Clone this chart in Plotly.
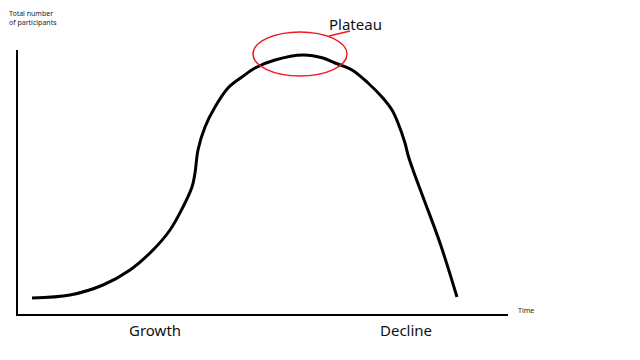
import plotly.graph_objects as go

# Hand-drawn life-cycle curve (time vs total number of participants)
time = [15, 53, 86, 113, 136, 153, 166, 175, 178, 181, 188, 198, 211, 225, 238, 258,
        286, 306, 318, 335, 351, 365, 375, 381, 388, 391, 396, 406, 423, 440]
participants = [17, 20, 30, 45, 65, 85, 108, 128, 142, 165, 188, 208, 227, 238, 247, 255,
                260, 257, 252, 245, 232, 218, 205, 192, 172, 160, 145, 118, 72, 18]

y_axis_label = "Total number<br>of participants"
x_axis_label = "Time"
phase_labels = ["Growth", "Decline"]
phase_x = [138, 389]
plateau_label = "Plateau"

fig = go.Figure()
fig.add_trace(go.Scatter(x=time, y=participants, mode="lines",
                         line=dict(color="black", width=3, shape="spline", smoothing=1.0),
                         hoverinfo="skip", showlegend=False))

# axes drawn as lines
fig.add_shape(type="line", x0=0, x1=0, y0=-1, y1=265, line=dict(color="black", width=2))
fig.add_shape(type="line", x0=0, x1=491, y0=0, y1=0, line=dict(color="black", width=2))

# plateau ellipse and leader
fig.add_shape(type="circle", x0=236, x1=330, y0=239, y1=283,
              line=dict(color="#ed1c24", width=1.5))
fig.add_shape(type="line", x0=312, x1=333, y0=279, y1=284,
              line=dict(color="#ed1c24", width=1.5))

fig.add_annotation(x=-10, y=297, text=y_axis_label, showarrow=False, xanchor="left",
                   yanchor="middle", align="left",
                   font=dict(family="Noto Sans", size=7, color="#222"))
fig.add_annotation(x=499, y=5, text=x_axis_label, showarrow=False, xanchor="left",
                   yanchor="middle", font=dict(family="Noto Sans", size=7, color="#222"))
for lab, xp in zip(phase_labels, phase_x):
    fig.add_annotation(x=xp, y=-15, text=lab, showarrow=False, xanchor="center",
                       yanchor="middle", font=dict(family="Noto Sans", size=15, color="#111"))
fig.add_annotation(x=338, y=291, text=plateau_label, showarrow=False, xanchor="center",
                   yanchor="middle", font=dict(family="Noto Sans", size=15, color="#111"))

fig.update_xaxes(visible=False, range=[-17, 623], fixedrange=True)
fig.update_yaxes(visible=False, range=[-45, 315], fixedrange=True)
fig.update_layout(width=640, height=360, margin=dict(l=0, r=0, t=0, b=0),
                  plot_bgcolor="white", paper_bgcolor="white")
fig.write_html("out.html")
